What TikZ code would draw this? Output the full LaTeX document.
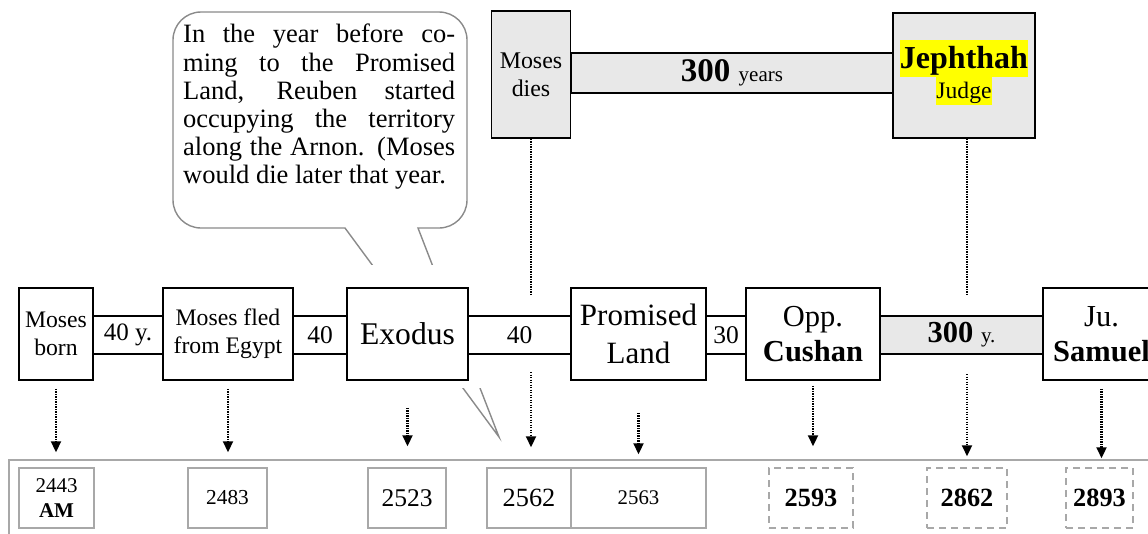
\documentclass[tikz,border=0pt]{standalone}
\usepackage{fontspec}
\setmainfont{Liberation Serif}
\usetikzlibrary{arrows.meta}
\definecolor{boxgray}{HTML}{E8E8E8}
\definecolor{linegray}{HTML}{A8A8A8}
\definecolor{bubblegray}{HTML}{8A8A8A}
\definecolor{hlyellow}{HTML}{FFFF00}
\begin{document}
\begin{tikzpicture}[x=1pt,y=-1pt,
  tbox/.style={draw, line width=1.5pt, fill=white, inner sep=0pt, align=center},
  conn/.style={draw, line width=1.5pt, fill=white, inner sep=0pt, minimum height=38pt, align=center},
  topbox/.style={draw, line width=1.8pt, fill=boxgray, inner sep=0pt, align=center},
  datebox/.style={draw=linegray, line width=1.5pt, fill=white, inner sep=0pt, minimum height=60pt, align=center},
  dashbox/.style={datebox, dash pattern=on 7pt off 5pt},
  dotline/.style={line width=2.2pt, dash pattern=on 1.3pt off 1.2pt},
  dotarrow/.style={dotline, -{Triangle[width=10pt,length=11pt]}},
  bubble/.style={draw=bubblegray, line width=1.4pt, fill=white},
  hl/.style={fill=hlyellow, inner sep=0pt}
]
\useasboundingbox (0,0) rectangle (1148,533);
\clip (0,0) rectangle (1148,533);

% speech bubble
\draw[bubble] (345,228) -- (499,437) -- (418,228) -- (439,228)
  arc[start angle=-90,end angle=0,radius=28pt] -- (467,40)
  arc[start angle=0,end angle=90,radius=28pt] -- (201,12)
  arc[start angle=90,end angle=180,radius=28pt] -- (173,200)
  arc[start angle=180,end angle=270,radius=28pt] -- cycle;
\node[anchor=north west, inner sep=0pt, text width=272pt, align=justify,
  font=\fontsize{26.5}{28.2}\selectfont] (btext) at (183,24)
  {In the year before co-\linebreak ming to the Promised\linebreak Land, Reuben started\linebreak occupying the territory\linebreak along the Arnon. (Moses\linebreak would die later that year.};
\fill[white] (358,265) rectangle (492,388);

% top row
\node[topbox, minimum width=322pt, minimum height=40pt] (bar) at (732,73)
  {\fontsize{33}{33}\selectfont\textbf{300} {\fontsize{21}{21}\selectfont years}};
\node[topbox, minimum width=79pt, minimum height=127pt, font=\fontsize{23.9}{28}\selectfont] (dies) at (531,74.5) {Moses\\dies};
\node[topbox, minimum width=142pt, minimum height=125pt] (jeph) at (964,75.5) {};
\node[hl, anchor=base, text height=28pt, text depth=9pt, font=\fontsize{32}{32}\selectfont\bfseries] (jname) at (964,68) {Jephthah};
\node[hl, anchor=base, text height=21pt, text depth=7pt, font=\fontsize{23.6}{24}\selectfont] (jtitle) at (964,98) {Judge};

% timeline connectors
\node[conn, minimum width=70pt, font=\fontsize{25}{25}\selectfont] (c1) at (128,335) {40 y.};
\node[conn, minimum width=54pt, font=\fontsize{25.5}{25}\selectfont] (c2) at (320,335) {40};
\node[conn, minimum width=103pt, font=\fontsize{25.5}{25}\selectfont] (c3) at (519.5,335) {40};
\node[conn, minimum width=40pt, font=\fontsize{25.5}{25}\selectfont] (c4) at (726,335) {30};
\node[conn, fill=boxgray, minimum width=163pt] (c5) at (961.5,335)
  {\fontsize{30.5}{30}\selectfont\textbf{300} {\fontsize{21}{21}\selectfont y.}};

% timeline boxes
\node[tbox, minimum width=74pt, minimum height=92pt, font=\fontsize{23.7}{28}\selectfont] (born) at (56,334) {Moses\\born};
\node[tbox, minimum width=130pt, minimum height=92pt, font=\fontsize{23.7}{28}\selectfont] (fled) at (228,334) {Moses fled\\from Egypt};
\node[tbox, minimum width=121pt, minimum height=92pt, font=\fontsize{31.6}{38}\selectfont] (exodus) at (407.5,334) {Exodus};
\node[tbox, minimum width=135pt, minimum height=92pt, font=\fontsize{31}{38}\selectfont] (promised) at (638.5,334) {Promised\\Land};
\node[tbox, minimum width=134pt, minimum height=92pt, font=\fontsize{30.5}{35}\selectfont] (cushan) at (813,334) {Opp.\\\textbf{Cushan}};
\node[tbox, minimum width=117pt, minimum height=92pt, font=\fontsize{30.5}{35}\selectfont] (samuel) at (1101.5,334) {Ju.\\\textbf{Samuel}};

% date frame and boxes
\draw[draw=linegray, line width=1.5pt] (9,545) -- (9,460) -- (1160,460);
\node[datebox, minimum width=75pt, font=\fontsize{21}{25}\selectfont] (d1) at (56.5,498) {2443\\\textbf{AM}};
\node[datebox, minimum width=79pt, font=\fontsize{21.3}{25}\selectfont] (d2) at (227.5,498) {2483};
\node[datebox, minimum width=78pt, font=\fontsize{25.5}{25}\selectfont] (d3) at (407,498) {2523};
\node[datebox, minimum width=84pt, font=\fontsize{26.3}{25}\selectfont] (d4) at (529,498) {2562};
\node[datebox, minimum width=135pt, font=\fontsize{20.8}{25}\selectfont] (d5) at (638.5,498) {2563};
\node[dashbox, minimum width=84pt, font=\fontsize{26.3}{25}\selectfont\bfseries] (d6) at (811,498) {2593};
\node[dashbox, minimum width=80pt, font=\fontsize{26.3}{25}\selectfont\bfseries] (d7) at (967,498) {2862};
\node[dashbox, minimum width=67pt, font=\fontsize{26.3}{25}\selectfont\bfseries] (d8) at (1099.5,498) {2893};

% dotted arrows
\coordinate (g1) at (531,295);
\coordinate (g2) at (531,372);
\coordinate (g3) at (967,295);
\coordinate (g4) at (967,374);
\draw[dotarrow, shorten <=8pt, shorten >=15pt] (born.south) -- (born.south |- d1.north);
\draw[dotarrow, shorten <=8pt, shorten >=15pt] (fled.south) -- (fled.south |- d2.north);
\draw[dotarrow, shorten <=27pt, shorten >=21pt] (exodus.south) -- (exodus.south |- d3.north);
\draw[dotline] (dies.south) -- (g1);
\draw[dotarrow, shorten >=20pt] (g2) -- (g2 |- d4.north);
\draw[dotarrow, shorten <=32pt, shorten >=13pt] (promised.south) -- (promised.south |- d5.north);
\draw[dotarrow, shorten <=5pt, shorten >=21pt] (cushan.south) -- (cushan.south |- d6.north);
\draw[dotline] (jeph.south -| g3) -- (g3);
\draw[dotarrow, shorten >=11pt] (g4) -- (g4 |- d7.north);
\draw[dotarrow, shorten <=8pt, shorten >=9pt] (samuel.south) -- (samuel.south |- d8.north);
\end{tikzpicture}
\end{document}
